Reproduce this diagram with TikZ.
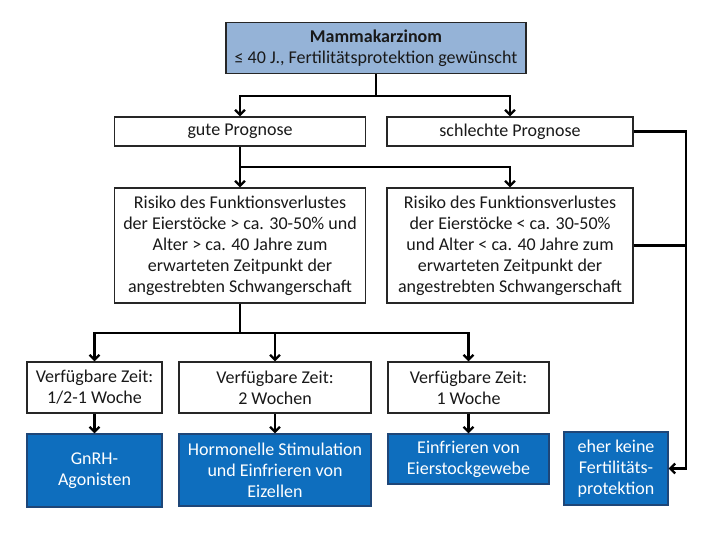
\documentclass[tikz,border=0pt]{standalone}
\usepackage{fontspec}
\setmainfont{Carlito}
\usetikzlibrary{arrows.meta}
\definecolor{topblue}{RGB}{149,179,215}
\definecolor{boxblue}{RGB}{14,110,190}
\definecolor{boxedge}{RGB}{30,70,120}
\begin{document}
\begin{tikzpicture}[x=1pt,y=-1pt,
    every node/.style={font=\fontsize{18}{21}\selectfont, align=center, inner sep=0pt, line width=1.3pt},
    whitebox/.style={draw=black!85, fill=white, text=black!90},
    headbox/.style={draw=black!85, fill=topblue, text=black!90},
    bluebox/.style={draw=boxedge, fill=boxblue, text=white},
    line/.style={line width=2.2pt, black},
    arr/.style={line width=2.2pt, black, -{Straight Barb[length=5pt,width=10pt]}}]
  \useasboundingbox (0,0) rectangle (720,540);
  \node[headbox, minimum width=300, minimum height=51] (top) at (376,48)
    {\textbf{Mammakarzinom}\\≤ 40 J., Fertilitätsprotektion gewünscht};
  \node[whitebox, minimum width=251, minimum height=29] (gute) at (240,131.5) {gute Prognose};
  \node[whitebox, minimum width=246, minimum height=29] (schlecht) at (510,131.5) {schlechte Prognose};
  \node[whitebox, minimum width=251, minimum height=115] (riskL) at (240,245.5)
    {Risiko des Funktionsverlustes\\der Eierstöcke > ca. 30-50\% und\\Alter > ca. 40 Jahre zum\\erwarteten Zeitpunkt der\\angestrebten Schwangerschaft};
  \node[whitebox, minimum width=246, minimum height=115] (riskR) at (510,245.5)
    {Risiko des Funktionsverlustes\\der Eierstöcke < ca. 30-50\%\\und Alter < ca. 40 Jahre zum\\erwarteten Zeitpunkt der\\angestrebten Schwangerschaft};
  \node[whitebox, minimum width=135, minimum height=51] (zeit1) at (94.5,387.5) {Verfügbare Zeit:\\1/2-1 Woche};
  \node[whitebox, minimum width=192, minimum height=51] (zeit2) at (275,387.5) {Verfügbare Zeit:\\2 Wochen};
  \node[whitebox, minimum width=161, minimum height=51] (zeit3) at (468.5,387.5) {Verfügbare Zeit:\\1 Woche};
  \node[bluebox, minimum width=135, minimum height=73] (gnrh) at (94.5,470.5) {GnRH-\\Agonisten};
  \node[bluebox, minimum width=192, minimum height=72] (stim) at (275,470) {Hormonelle Stimulation\\und Einfrieren von\\Eizellen};
  \node[bluebox, minimum width=161, minimum height=50] (gewebe) at (468.5,459) {Einfrieren von\\Eierstockgewebe};
  \node[bluebox, minimum width=104, minimum height=73] (keine) at (616,468.5) {eher keine\\Fertilitäts-\\protektion};
  \coordinate (j1) at (376,96);
  \coordinate (j2) at (240,167);
  \coordinate (j3) at (240,333);
  \coordinate (rc) at (686,131.5);
  \coordinate (rb) at (686,468.5);
  \begin{scope}
    \draw[line] (top) -- (j1);
    \draw[arr] (j1) -| (gute);
    \draw[arr] (j1) -| (schlecht);
    \draw[line] (gute) -- (j2);
    \draw[arr] (j2) -| (riskL);
    \draw[arr] (j2) -| (riskR);
    \draw[line] (riskL) -- (j3);
    \draw[arr] (j3) -| (zeit1);
    \draw[arr] (j3) -| (zeit2);
    \draw[arr] (j3) -| (zeit3);
    \draw[arr] (zeit1) -- (gnrh);
    \draw[arr] (zeit2) -- (stim);
    \draw[arr] (zeit3) -- (gewebe);
    \draw[arr] (schlecht) -- (rc) -- (rb) -- (keine);
    \draw[line] (riskR) -- (riskR -| rc);
  \end{scope}
\end{tikzpicture}
\end{document}
